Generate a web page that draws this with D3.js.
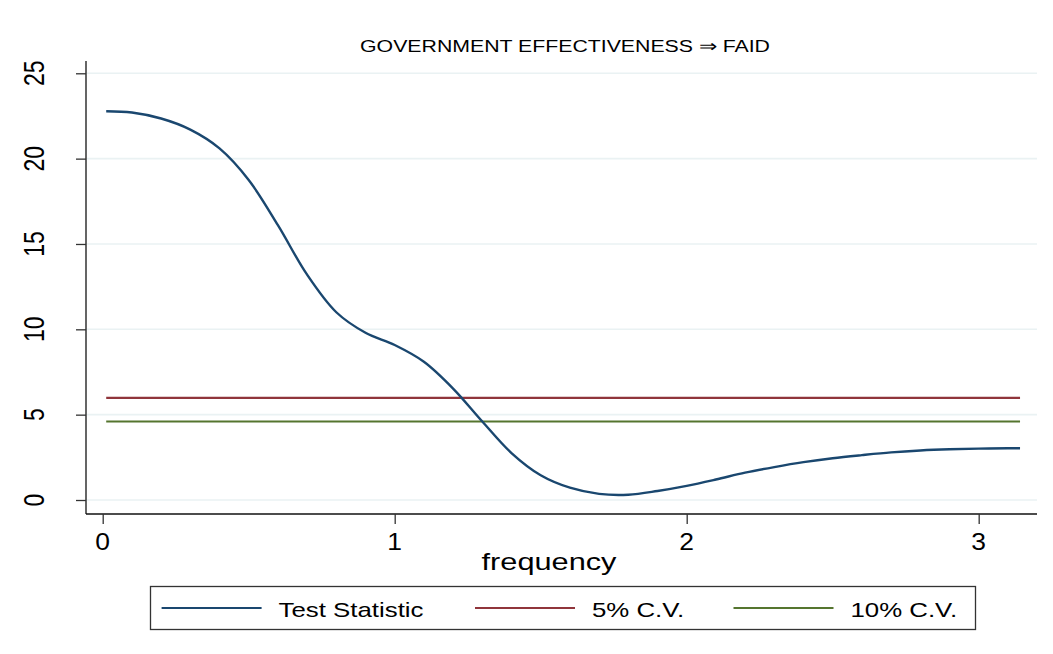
<!DOCTYPE html>
<html>
<head>
<meta charset="utf-8">
<script src="https://cdn.jsdelivr.net/npm/d3@7"></script>
<style>
  body { margin: 0; background: #fff; }
  text { font-family: "Liberation Sans", Arial, Helvetica, sans-serif; fill: #000; }
</style>
</head>
<body>
<svg id="chart" width="1053" height="654"></svg>
<script>
// values
var freq = [0.012, 0.1, 0.2, 0.3, 0.4, 0.5, 0.6, 0.7, 0.8, 0.9, 1.0, 1.1, 1.2, 1.3, 1.4, 1.5,
            1.6, 1.7, 1.8, 1.9, 2.0, 2.1, 2.2, 2.3, 2.4, 2.5, 2.6, 2.7, 2.8, 2.9, 3.0, 3.1, 3.1416]
var testStat = [22.78, 22.7, 22.35, 21.7, 20.6, 18.75, 16.1, 13.2, 11.0, 9.8, 9.08, 8.1, 6.53, 4.6, 2.75, 1.45,
                0.72, 0.36, 0.31, 0.53, 0.83, 1.2, 1.6, 1.93, 2.22, 2.45, 2.63, 2.79, 2.9, 2.97, 3.01, 3.03, 3.03]
var cv5 = 5.98
var cv10 = 4.6
var xTicks = [0, 1, 2, 3]
var yTicks = [0, 5, 10, 15, 20, 25]
var seriesNames = ["Test Statistic", "5% C.V.", "10% C.V."]
var seriesColors = ["#1a476f", "#90353b", "#55752f"]
var title = "GOVERNMENT EFFECTIVENESS \u21D2 FAID"
var xTitle = "frequency"

var svg = d3.select("#chart")

var pLeft = 86, pRight = 1037, pTop = 61, pBottom = 514

var x = d3.scaleLinear().domain([-0.0572, 3.1997]).range([pLeft, pRight])
var y = d3.scaleLinear().domain([-0.82, 25.72]).range([pBottom, pTop])

// text in the reference is stretched sideways
function place(sel, tx, ty, sx, rot) {
    sel.attr("transform", "translate(" + tx + "," + ty + ") scale(" + sx + ",1)" + (rot ? " rotate(-90)" : ""))
}

// grid
svg.selectAll(".grid")
    .data(yTicks)
    .enter().append("line")
    .attr("class", "grid")
    .attr("x1", pLeft).attr("x2", pRight)
    .attr("y1", function(d){ return y(d) }).attr("y2", function(d){ return y(d) })
    .attr("stroke", "#eaf2f3")
    .attr("stroke-width", 1.6)

// y axis
var yAxis = svg.append("g")
    .attr("transform", "translate(" + pLeft + ",0)")
    .call(d3.axisLeft(y).tickValues(yTicks).tickSize(10).tickSizeOuter(0).tickFormat(""))
yAxis.select(".domain").attr("stroke", "#555").attr("stroke-width", 1.8)
    .attr("d", "M0," + pTop + "V" + pBottom)
yAxis.selectAll(".tick line").attr("stroke", "#333").attr("stroke-width", 1.3)

svg.selectAll(".ylab")
    .data(yTicks)
    .enter().append("text")
    .attr("class", "ylab")
    .attr("text-anchor", "middle")
    .style("font-size", "23px")
    .text(function(d){ return d })
    .each(function(d){ place(d3.select(this), 43.5, y(d), 1.25, true) })

// x axis
var xAxis = svg.append("g")
    .attr("transform", "translate(0," + pBottom + ")")
    .call(d3.axisBottom(x).tickValues(xTicks).tickSize(10).tickSizeOuter(0).tickFormat(""))
xAxis.select(".domain").attr("stroke", "#111").attr("stroke-width", 1.6)
    .attr("d", "M" + pLeft + ",0H" + pRight)
xAxis.selectAll(".tick line").attr("stroke", "#333").attr("stroke-width", 1.3)

svg.selectAll(".xlab")
    .data(xTicks)
    .enter().append("text")
    .attr("class", "xlab")
    .attr("text-anchor", "middle")
    .style("font-size", "23px")
    .text(function(d){ return d })
    .each(function(d){ place(d3.select(this), x(d), 550, 1.15, false) })

svg.append("text")
    .attr("text-anchor", "middle")
    .style("font-size", "24px")
    .text(xTitle)
    .call(place, 549, 570, 1.28, false)

svg.append("text")
    .attr("text-anchor", "middle")
    .style("font-size", "16.5px")
    .text(title)
    .call(place, 565, 52, 1.29, false)

// critical value lines
var xFirst = freq[0], xLast = freq[freq.length - 1]
svg.selectAll(".cv")
    .data([cv5, cv10])
    .enter().append("line")
    .attr("class", "cv")
    .attr("x1", x(xFirst)).attr("x2", x(xLast))
    .attr("y1", function(d){ return y(d) }).attr("y2", function(d){ return y(d) })
    .attr("stroke", function(d, i){ return seriesColors[i + 1] })
    .attr("stroke-width", 2.2)

// test statistic
var line = d3.line()
    .curve(d3.curveCatmullRom)
    .x(function(d, i){ return x(freq[i]) })
    .y(function(d){ return y(d) })

svg.append("path")
    .attr("d", line(testStat))
    .attr("fill", "none")
    .attr("stroke", seriesColors[0])
    .attr("stroke-width", 2.4)

// legend
svg.append("rect")
    .attr("x", 150.5).attr("y", 586.5)
    .attr("width", 825).attr("height", 43)
    .attr("fill", "#fff")
    .attr("stroke", "#333")
    .attr("stroke-width", 1.3)

var legX = [161.6, 475, 733.5]
var legend = svg.selectAll(".leg")
    .data(seriesNames)
    .enter().append("g")
    .attr("class", "leg")
legend.append("line")
    .attr("x1", function(d, i){ return legX[i] })
    .attr("x2", function(d, i){ return legX[i] + 100 })
    .attr("y1", 608).attr("y2", 608)
    .attr("stroke", function(d, i){ return seriesColors[i] })
    .attr("stroke-width", 2.2)
legend.append("text")
    .style("font-size", "21px")
    .text(function(d){ return d })
    .each(function(d, i){ place(d3.select(this), legX[i] + 117, 616.5, 1.23, false) })
</script>
</body>
</html>
